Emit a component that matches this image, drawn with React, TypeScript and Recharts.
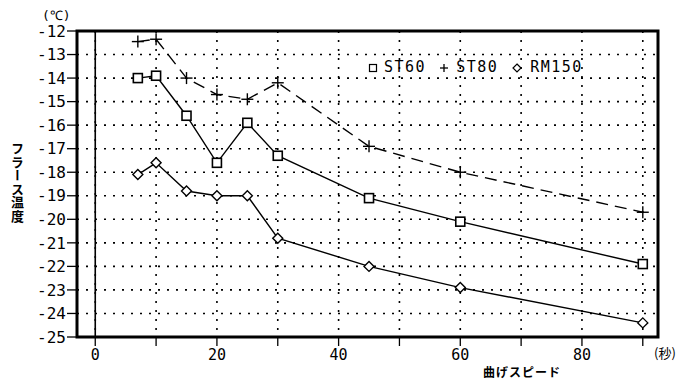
import React from 'react';
import { LineChart, Line, XAxis, YAxis, CartesianGrid, ReferenceLine, ReferenceArea } from 'recharts';

// 曲げスピード (秒) と フラース温度 (℃)
const speeds = [7, 10, 15, 20, 25, 30, 45, 60, 90];
const st60 = [-14.0, -13.9, -15.6, -17.6, -15.9, -17.3, -19.1, -20.1, -21.9];
const st80 = [-12.45, -12.35, -14.0, -14.7, -14.9, -14.2, -16.9, -18.0, -19.7];
const rm150 = [-18.1, -17.6, -18.8, -19.0, -19.0, -20.8, -22.0, -22.9, -24.4];

const xTicks = [0, 10, 20, 30, 40, 50, 60, 70, 80, 90];
const yTicks = [-25, -24, -23, -22, -21, -20, -19, -18, -17, -16, -15, -14, -13, -12];

const data = speeds.map((s, i) => ({ speed: s, st60: st60[i], st80: st80[i], rm150: rm150[i] }));

const mono = '"DejaVu Sans Mono", monospace';
const jp = '"Noto Sans CJK JP", sans-serif';

const SquareDot = (props: any) => {
  const { cx, cy } = props;
  if (cx == null || cy == null) return null;
  return <rect x={cx - 4.5} y={cy - 4.5} width={9} height={9} fill="#fff" stroke="#000" strokeWidth={1.6} />;
};

const PlusDot = (props: any) => {
  const { cx, cy } = props;
  if (cx == null || cy == null) return null;
  return (
    <g stroke="#000" strokeWidth={1.4}>
      <line x1={cx - 6} y1={cy} x2={cx + 6} y2={cy} />
      <line x1={cx} y1={cy - 6} x2={cx} y2={cy + 6} />
    </g>
  );
};

const DiamondDot = (props: any) => {
  const { cx, cy } = props;
  if (cx == null || cy == null) return null;
  return (
    <polygon
      points={`${cx},${cy - 5} ${cx + 5},${cy} ${cx},${cy + 5} ${cx - 5},${cy}`}
      fill="#fff"
      stroke="#000"
      strokeWidth={1.4}
    />
  );
};

const LegendBox = () => (
  <div
    style={{
      position: 'absolute',
      left: 368,
      top: 59,
      fontFamily: mono,
      fontSize: 15,
      lineHeight: '17px',
      letterSpacing: 1.5,
      color: '#000',
      display: 'flex',
      alignItems: 'center',
      whiteSpace: 'nowrap',
    }}
  >
    <svg width={10} height={10} style={{ marginRight: 6 }}>
      <rect x={1.5} y={1.5} width={7} height={7} fill="#fff" stroke="#000" strokeWidth={1.2} />
    </svg>
    <span>ST60</span>
    <svg width={12} height={12} style={{ marginLeft: 12, marginRight: 6 }}>
      <line x1={2} y1={6} x2={10} y2={6} stroke="#000" strokeWidth={1.3} />
      <line x1={6} y1={2} x2={6} y2={10} stroke="#000" strokeWidth={1.3} />
    </svg>
    <span>ST80</span>
    <svg width={10} height={10} style={{ marginLeft: 14, marginRight: 8 }}>
      <polygon points="5,1 9,5 5,9 1,5" fill="#fff" stroke="#000" strokeWidth={1.2} />
    </svg>
    <span>RM150</span>
  </div>
);

export default function App() {
  return (
    <div style={{ position: 'absolute', left: 0, top: 0, width: 691, height: 381, background: '#fff' }}>
      <LineChart width={691} height={381} data={data} margin={{ top: 31, right: 33, bottom: 14, left: 0 }}>
        <CartesianGrid stroke="#000" strokeWidth={1.6} strokeDasharray="2 7" />
        <XAxis
          dataKey="speed"
          type="number"
          domain={[-3, 92.5]}
          ticks={xTicks}
          interval={0}
          allowDataOverflow
          height={30}
          axisLine={false}
          tickSize={9}
          tickMargin={3}
          tickLine={{ stroke: '#000', strokeWidth: 1.3 }}
          tick={{ fill: '#000', fontSize: 15, fontFamily: mono }}
          tickFormatter={(v: number) => (v % 20 === 0 ? String(v) : '')}
        />
        <YAxis
          type="number"
          domain={[-25, -12]}
          ticks={yTicks}
          interval={0}
          allowDataOverflow
          width={77}
          axisLine={false}
          tickSize={10}
          tickMargin={1}
          tickLine={{ stroke: '#000', strokeWidth: 1.3 }}
          tick={{ fill: '#000', fontSize: 16, fontFamily: mono }}
        />
        <ReferenceLine x={0} stroke="#000" strokeWidth={1.6} />
        <ReferenceArea x1={-3} x2={92.5} y1={-25} y2={-12} fill="none" stroke="#000" strokeWidth={3} />
        <Line dataKey="st60" stroke="#000" strokeWidth={1.4} dot={<SquareDot />} isAnimationActive={false} />
        <Line dataKey="st80" stroke="#000" strokeWidth={1.4} strokeDasharray="12 7" dot={<PlusDot />} isAnimationActive={false} />
        <Line dataKey="rm150" stroke="#000" strokeWidth={1.4} dot={<DiamondDot />} isAnimationActive={false} />
      </LineChart>
      <LegendBox />
      <div style={{ position: 'absolute', left: 42, top: 6, fontFamily: mono, fontSize: 13, color: '#000' }}>(℃)</div>
      <div
        style={{
          position: 'absolute',
          left: 10,
          top: 142,
          writingMode: 'vertical-rl',
          fontFamily: jp,
          fontSize: 13,
          lineHeight: '15px',
          letterSpacing: 0.5,
          fontWeight: 700,
          color: '#000',
        }}
      >
        フラース温度
      </div>
      <div
        style={{
          position: 'absolute',
          left: 483,
          top: 365,
          fontFamily: jp,
          fontSize: 12,
          lineHeight: '14px',
          letterSpacing: 1,
          fontWeight: 700,
          color: '#000',
        }}
      >
        曲げスピード
      </div>
      <div style={{ position: 'absolute', left: 654, top: 345, fontFamily: jp, fontSize: 13, lineHeight: '16px', color: '#000' }}>(秒)</div>
    </div>
  );
}
